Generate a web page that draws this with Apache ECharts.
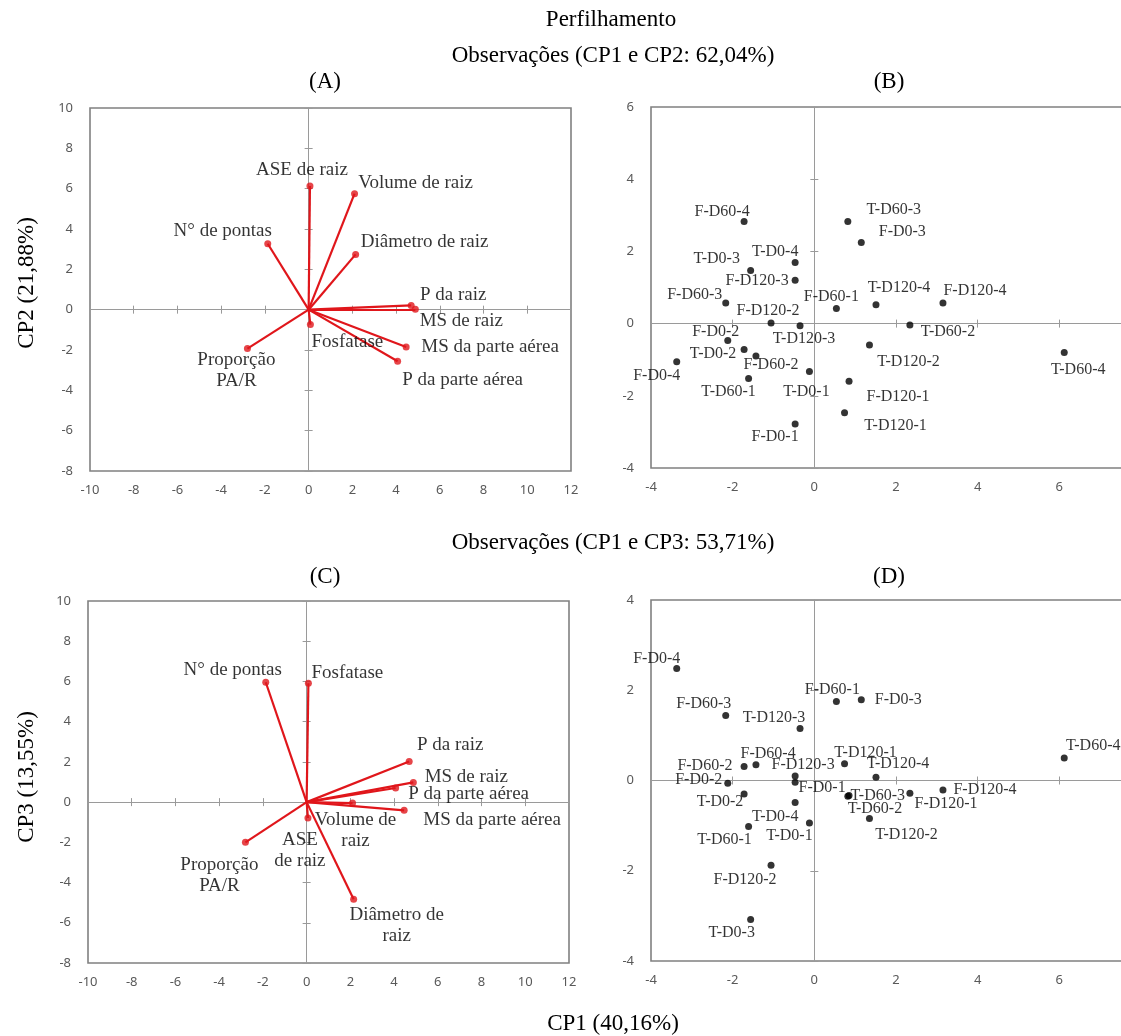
<!DOCTYPE html>
<html>
<head>
<meta charset="utf-8">
<script src="https://cdn.jsdelivr.net/npm/echarts@6/dist/echarts.min.js"></script>
<style>
  html, body { margin: 0; padding: 0; background: #ffffff; }
  #chart { width: 1121px; height: 1036px; }
</style>
</head>
<body>
<div id="chart"></div>
<script>
// ---- Variables: loadings on CP1, CP2 and CP3 ----
const variables = ['ASE de raiz', 'Volume de raiz', 'N° de pontas', 'Diâmetro de raiz', 'P da raiz',
                   'MS de raiz', 'MS da parte aérea', 'P da parte aérea', 'Fosfatase', 'Proporção PA/R'];
const varCP1 = [0.06, 2.10, -1.87, 2.15, 4.69, 4.88, 4.46, 4.07, 0.08, -2.80];
const varCP2 = [6.13, 5.75, 3.27, 2.74, 0.21, 0.02, -1.85, -2.56, -0.74, -1.93];
const varCP3 = [-0.79, -0.05, 5.96, -4.83, 2.02, 0.98, -0.41, 0.70, 5.91, -2.00];

// ---- Observations: scores on CP1, CP2 and CP3 ----
const observations = ['F-D0-1', 'F-D0-2', 'F-D0-3', 'F-D0-4',
                      'F-D60-1', 'F-D60-2', 'F-D60-3', 'F-D60-4',
                      'F-D120-1', 'F-D120-2', 'F-D120-3', 'F-D120-4',
                      'T-D0-1', 'T-D0-2', 'T-D0-3', 'T-D0-4',
                      'T-D60-1', 'T-D60-2', 'T-D60-3', 'T-D60-4',
                      'T-D120-1', 'T-D120-2', 'T-D120-3', 'T-D120-4'];
const obsCP1 = [-0.47, -2.12, 1.15, -3.37,
                 0.54, -1.43, -2.17, -1.72,
                 0.85, -1.06, -0.47, 3.15,
                -0.12, -1.72, -1.56, -0.47,
                -1.61, 2.34, 0.82, 6.12,
                 0.74, 1.35, -0.35, 1.51];
const obsCP2 = [-2.78, -0.47, 2.25, -1.06,
                 0.42, -0.90, 0.57, 2.83,
                -1.60, 0.02, 1.20, 0.57,
                -1.33, -0.72, 1.47, 1.69,
                -1.52, -0.04, 2.83, -0.80,
                -2.47, -0.59, -0.06, 0.52];
const obsCP3 = [-0.04, -0.06, 1.79, 2.48,
                 1.75, 0.35, 1.44, 0.31,
                -0.33, -1.88, 0.10, -0.21,
                -0.94, -0.30, -3.08, -0.49,
                -1.02, -0.28, -0.35, 0.50,
                 0.37, -0.84, 1.15, 0.07];

// ---- Axis ranges ----
const loadRangeX = [-10, 12];
const loadRangeY = [-8, 10];
const scoreRangeX = [-4, 8];
const scoreRangeY12 = [-4, 6];
const scoreRangeY13 = [-4, 4];

// ---- Text ----
const mainTitle = 'Perfilhamento';
const subTitle12 = 'Observações (CP1 e CP2: 62,04%)';
const subTitle13 = 'Observações (CP1 e CP3: 53,71%)';
const panelTags = ['(A)', '(B)', '(C)', '(D)'];
const axisNameX = 'CP1 (40,16%)';
const axisNameY2 = 'CP2 (21,88%)';
const axisNameY3 = 'CP3 (13,55%)';

// ---- Label placement (pixel offsets of label centre from its mark) ----
const offsVarA = {
  'ASE de raiz': [-8, -16], 'Volume de raiz': [61, -11], 'N° de pontas': [-45, -13],
  'Diâmetro de raiz': [69, -12], 'P da raiz': [42, -10], 'MS de raiz': [46, 12],
  'MS da parte aérea': [84, 0], 'P da parte aérea': [65, 19], 'Fosfatase': [37, 17],
  'Proporção PA/R': [-11, 22]
};
const breaksA = { 'Proporção PA/R': 'Proporção\nPA/R' };
const offsVarC = {
  'N° de pontas': [-33, -12], 'Fosfatase': [39, -10], 'P da raiz': [41, -16],
  'MS de raiz': [53, -5], 'P da parte aérea': [73, 6], 'MS da parte aérea': [88, 10],
  'Volume de raiz': [3, 27], 'ASE de raiz': [-8, 33], 'Proporção PA/R': [-26, 33],
  'Diâmetro de raiz': [43, 26]
};
const breaksC = {
  'Proporção PA/R': 'Proporção\nPA/R', 'Volume de raiz': 'Volume de\nraiz',
  'ASE de raiz': 'ASE\nde raiz', 'Diâmetro de raiz': 'Diâmetro de\nraiz'
};
const offsObsB = {
  'F-D60-4': [-22, -10], 'T-D0-3': [-34, -12], 'T-D0-4': [-20, -11], 'F-D120-3': [-38, 1],
  'F-D60-3': [-31, -8], 'F-D120-2': [-3, -12], 'T-D120-3': [4, 13], 'F-D60-1': [-5, -12],
  'F-D0-2': [-12, -9], 'T-D0-2': [-31, 4], 'F-D60-2': [15, 9], 'F-D0-4': [-20, 14],
  'T-D60-1': [-20, 13], 'T-D0-1': [-3, 20], 'F-D0-1': [-20, 13], 'T-D60-3': [46, -12],
  'F-D0-3': [41, -11], 'T-D120-4': [23, -17], 'F-D120-4': [32, -12], 'T-D60-2': [38, 7],
  'T-D120-2': [39, 17], 'T-D60-4': [14, 17], 'F-D120-1': [49, 15], 'T-D120-1': [51, 13]
};
const offsObsD = {
  'F-D0-4': [-20, -10], 'F-D60-3': [-22, -12], 'T-D120-3': [-26, -11], 'F-D60-1': [-4, -12],
  'F-D0-3': [37, 0], 'F-D60-4': [24, -13], 'F-D60-2': [-51, 1], 'F-D120-3': [8, -11],
  'F-D0-2': [-29, -3], 'F-D0-1': [27, 5], 'T-D0-2': [-24, 8], 'T-D0-4': [-20, 14],
  'T-D60-1': [-24, 13], 'T-D0-1': [-20, 13], 'F-D120-2': [-26, 14], 'T-D0-3': [-19, 13],
  'T-D120-1': [21, -11], 'T-D120-4': [22, -14], 'T-D60-3': [30, 0], 'T-D60-2': [-35, 16],
  'F-D120-1': [97, 8], 'F-D120-4': [42, 0], 'T-D120-2': [37, 16], 'T-D60-4': [29, -12]
};

// ---- Styles ----
const SERIF = '"Liberation Serif", "Times New Roman", serif';
const SANS = '"Noto Sans", "Open Sans", sans-serif';
const RED = '#e0161b';
const INK = '#000000';
const BORDER = '#808080';
const ZERO = '#9a9a9a';

const grids = [
  { left: 90,  top: 108, width: 481, height: 363 },   // A
  { left: 651, top: 107, width: 490, height: 361 },   // B (runs past the right edge)
  { left: 88,  top: 601, width: 481, height: 362 },   // C
  { left: 651, top: 600, width: 490, height: 361 }    // D (runs past the right edge)
].map(g => Object.assign({
  show: true, borderColor: BORDER, borderWidth: 1.6, backgroundColor: '#fff',
  containLabel: false, outerBoundsMode: 'none'
}, g));

const xAxes = [];
const yAxes = [];
// per grid: [edge axis with labels, zero axis with outward ticks, zero axis with inward ticks]
function addAxes(gi, xr, yr) {
  const base = i => ({ gridIndex: gi, type: 'value', min: i[0], max: i[1], interval: 2, splitLine: { show: false } });
  const edgeLabel = { color: '#595959', fontFamily: SANS, fontSize: 13 };
  xAxes.push(Object.assign(base(xr), {
    position: 'bottom', axisLine: { show: false, onZero: false }, axisTick: { show: false },
    axisLabel: Object.assign({ margin: 13 }, edgeLabel)
  }));
  yAxes.push(Object.assign(base(yr), {
    position: 'left', axisLine: { show: false, onZero: false }, axisTick: { show: false },
    axisLabel: Object.assign({ margin: 17 }, edgeLabel)
  }));
  const edgeIdx = 3 * gi;
  [false, true].forEach(inside => {
    xAxes.push(Object.assign(base(xr), {
      position: 'bottom',
      axisLine: { show: !inside, onZero: true, onZeroAxisIndex: edgeIdx, lineStyle: { color: ZERO, width: 1 } },
      axisTick: { show: true, inside: inside, length: 4, lineStyle: { color: ZERO, width: 1 } },
      axisLabel: { show: false }
    }));
    yAxes.push(Object.assign(base(yr), {
      position: 'left',
      axisLine: { show: !inside, onZero: true, onZeroAxisIndex: edgeIdx, lineStyle: { color: ZERO, width: 1 } },
      axisTick: { show: true, inside: inside, length: 4, lineStyle: { color: ZERO, width: 1 } },
      axisLabel: { show: false }
    }));
  });
}
addAxes(0, loadRangeX, loadRangeY);
addAxes(1, scoreRangeX, scoreRangeY12);
addAxes(2, loadRangeX, loadRangeY);
addAxes(3, scoreRangeX, scoreRangeY13);

function labelStyle(size) {
  return {
    show: true, position: 'inside', align: 'center', verticalAlign: 'middle',
    color: INK, fontFamily: SERIF, fontSize: size, lineHeight: Math.round(size * 1.1),
    textBorderWidth: 0
  };
}

// loading vectors: a segment from the origin plus a labelled end point
function vectorSeries(gi, xs, ys, offs, breaks) {
  const ai = 3 * gi;
  return [
    {
      type: 'lines', coordinateSystem: 'cartesian2d', xAxisIndex: ai, yAxisIndex: ai,
      lineStyle: { color: RED, width: 2.2, opacity: 1 }, z: 3,
      data: variables.map((n, i) => ({ coords: [[0, 0], [xs[i], ys[i]]] }))
    },
    {
      type: 'scatter', xAxisIndex: ai, yAxisIndex: ai, symbol: 'circle', symbolSize: 7,
      itemStyle: { color: RED }, z: 4,
      label: Object.assign(labelStyle(19), { formatter: p => breaks[p.name] || p.name }),
      data: variables.map((n, i) => ({ name: n, value: [xs[i], ys[i]], label: { offset: offs[n] } }))
    }
  ];
}

function scoreSeries(gi, xs, ys, offs) {
  const ai = 3 * gi;
  return {
    type: 'scatter', xAxisIndex: ai, yAxisIndex: ai, symbol: 'circle', symbolSize: 7,
    itemStyle: { color: '#000' }, z: 4,
    label: Object.assign(labelStyle(16), { formatter: p => p.name }),
    data: observations.map((n, i) => ({ name: n, value: [xs[i], ys[i]], label: { offset: offs[n] } }))
  };
}

function txt(text, x, y, size, rot) {
  return {
    type: 'text', x: x, y: y, rotation: rot || 0, z: 10,
    style: { text: text, fill: INK, font: size + 'px ' + SERIF, align: 'center', verticalAlign: 'middle' }
  };
}

const option = {
  animation: false,
  backgroundColor: '#ffffff',
  grid: grids,
  xAxis: xAxes,
  yAxis: yAxes,
  series: [].concat(
    vectorSeries(0, varCP1, varCP2, offsVarA, breaksA),
    [scoreSeries(1, obsCP1, obsCP2, offsObsB)],
    vectorSeries(2, varCP1, varCP3, offsVarC, breaksC),
    [scoreSeries(3, obsCP1, obsCP3, offsObsD)]
  ),
  graphic: [
    txt(mainTitle, 611, 20, 23),
    txt(subTitle12, 613, 56, 23),
    txt(panelTags[0], 325, 82, 23),
    txt(panelTags[1], 889, 82, 23),
    txt(subTitle13, 613, 543, 23),
    txt(panelTags[2], 325, 577, 23),
    txt(panelTags[3], 889, 577, 23),
    txt(axisNameX, 613, 1024, 23),
    txt(axisNameY2, 27, 283, 23, Math.PI / 2),
    txt(axisNameY3, 27, 777, 23, Math.PI / 2)
  ]
};

const chart = echarts.init(document.getElementById('chart'), null, { renderer: 'canvas' });
chart.setOption(option);
</script>
</body>
</html>
